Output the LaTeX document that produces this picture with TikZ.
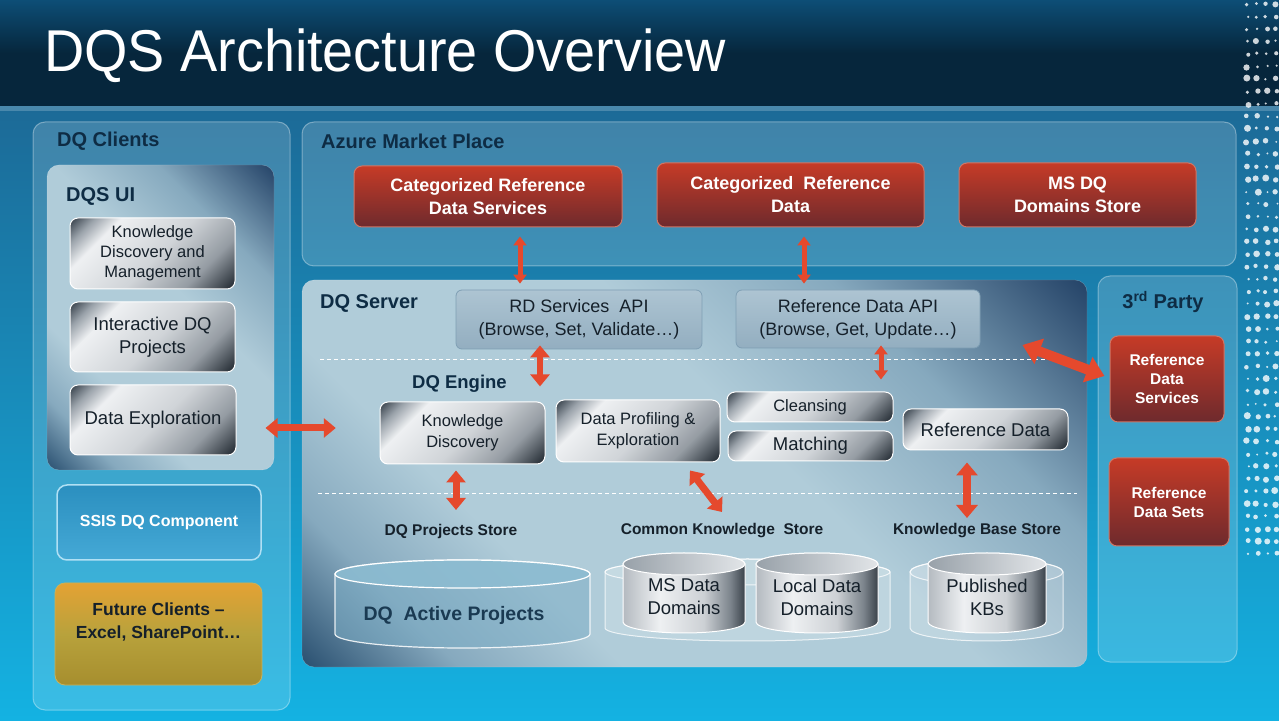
\documentclass[tikz,border=0pt]{standalone}
\usepackage{fontspec}
\setmainfont{Liberation Sans}
\usetikzlibrary{arrows.meta}
\definecolor{bgtop}{HTML}{1C6A97}
\definecolor{bgbot}{HTML}{14B2E2}
\definecolor{bandtop}{HTML}{0D4E76}
\definecolor{banddark}{HTML}{06263C}
\definecolor{navy}{HTML}{0E2C44}
\definecolor{inkdark}{HTML}{15202A}
\definecolor{redtop}{HTML}{C63B27}
\definecolor{redbot}{HTML}{6E2A2D}
\definecolor{redline}{HTML}{CF7666}
\definecolor{arrowred}{HTML}{E5492D}
\definecolor{apitop}{HTML}{ADC4D2}
\definecolor{apibot}{HTML}{93AEC0}
\definecolor{apiline}{HTML}{7F9FB4}
\definecolor{ssistop}{HTML}{2B8FBF}
\definecolor{ssisbot}{HTML}{45A9D6}
\definecolor{ssisline}{HTML}{B0E0F4}
\definecolor{futtop}{HTML}{E4A234}
\definecolor{futmid}{HTML}{B8A23C}
\definecolor{futbot}{HTML}{A68E2E}
\definecolor{futline}{HTML}{C9B25A}
\definecolor{steelA}{HTML}{2E5474}
\definecolor{steelB}{HTML}{86A9BE}
\definecolor{steelC}{HTML}{B0CCD9}
\definecolor{steelD}{HTML}{27466A}
\definecolor{silA}{HTML}{36404A}
\definecolor{silB}{HTML}{9AA2AA}
\definecolor{silC}{HTML}{EEF0F2}
\definecolor{silD}{HTML}{D0D4D8}
\definecolor{silE}{HTML}{959CA3}
\definecolor{silF}{HTML}{1F272F}
\definecolor{drumA}{HTML}{B4BAC0}
\definecolor{drumB}{HTML}{EEF0F2}
\definecolor{drumC}{HTML}{CDD1D5}
\definecolor{drumD}{HTML}{7C848C}
\definecolor{drumE}{HTML}{3A424A}
\definecolor{drumlid}{HTML}{98A1A9}
\definecolor{drumlidlight}{HTML}{E2E5E8}
\definecolor{activefill}{HTML}{8DBDD2}
\definecolor{activebody}{HTML}{7DAEC6}
\definecolor{activeink}{HTML}{1A3A52}
\pgfdeclarehorizontalshading{steel}{100bp}{color(0bp)=(steelA); color(15bp)=(steelA);
  color(24bp)=(steelB); color(34bp)=(steelC); color(56bp)=(steelC); color(70bp)=(steelB);
  color(85bp)=(steelD); color(100bp)=(steelD)}
\pgfdeclarehorizontalshading{silver}{100bp}{color(0bp)=(silA); color(15bp)=(silA);
  color(22bp)=(silB); color(30bp)=(silC); color(52bp)=(silD); color(70bp)=(silE);
  color(85bp)=(silF); color(100bp)=(silF)}
\pgfdeclarehorizontalshading{drum}{100bp}{color(0bp)=(drumA); color(25bp)=(drumA);
  color(40bp)=(drumB); color(58bp)=(drumC); color(69bp)=(drumD); color(75bp)=(drumE);
  color(100bp)=(drumE)}
\tikzstyle{panel} = [rectangle, rounded corners=12pt, fill=white, fill opacity=0.16,
  draw=white, draw opacity=0.35, line width=1pt, inner sep=0pt]
\tikzstyle{steelpanel} = [rectangle, rounded corners=12pt, shade, shading=steel,
  shading angle=45, draw=white, draw opacity=0.3, inner sep=0pt]
\tikzstyle{heading} = [anchor=west, inner sep=0pt, text=navy,
  font=\bfseries\fontsize{20}{24}\selectfont]
\tikzstyle{silverbox} = [rectangle, rounded corners=8pt, shade, shading=silver,
  shading angle=-45, draw=white, line width=1pt, inner sep=0pt, align=center,
  text=inkdark, font=\fontsize{18.5}{23}\selectfont]
\tikzstyle{redbox} = [rectangle, rounded corners=8pt, top color=redtop, bottom color=redbot,
  draw=redline, line width=1pt, inner sep=0pt, align=center, text=white,
  font=\bfseries\fontsize{18}{23}\selectfont]
\tikzstyle{apibox} = [rectangle, rounded corners=6pt, top color=apitop, bottom color=apibot,
  draw=apiline, line width=0.8pt, inner sep=0pt, align=center, text=inkdark,
  font=\fontsize{18}{23}\selectfont]
\tikzstyle{storelabel} = [inner sep=0pt, text=inkdark, font=\bfseries\fontsize{15.5}{18}\selectfont]
\tikzstyle{drumtext} = [inner sep=0pt, align=center, text=inkdark, font=\fontsize{18.5}{23}\selectfont]
\tikzstyle{drumbody} = [shade, shading=drum, draw=white, line width=1pt]
\tikzstyle{drumtop} = [left color=drumlid, right color=drumlidlight, draw=white, line width=1pt]
\tikzstyle{traybody} = [fill=white, fill opacity=0.18, draw=white, draw opacity=0.75, line width=1pt]
\tikzstyle{traytop} = [fill=white, fill opacity=0.12, draw=white, draw opacity=0.75, line width=1pt]
\tikzstyle{activebox} = [fill=activebody, fill opacity=0.55, draw=white, draw opacity=0.85, line width=1.2pt]
\tikzstyle{activetop} = [fill=activefill, fill opacity=0.8, draw=white, line width=1.2pt]
\tikzstyle{dqarrow} = [draw=arrowred, <->, line width=7pt, >={Triangle[length=12pt,width=19pt]}]
\tikzstyle{small arrow} = [line width=5pt, >={Triangle[length=9pt,width=13pt]}]
\tikzstyle{big arrow} = [line width=10pt, >={Triangle[length=18pt,width=26pt]}]
\newcommand{\link}[3][]{ %
  \foreach \x in {#2} { %
    \foreach \y in {#3} { %
      \path (\x) edge [dqarrow,#1] (\y) ;%
    } ;
  } ;
}
\newcommand{\drum}[7]{ % centre x, top y, bottom y, x radius, y radius, body, lid
  \path[#6] ({#1-#4},#2) -- ({#1-#4},#3)
    arc[start angle=180, end angle=360, x radius=#4pt, y radius=#5pt]
    -- ({#1+#4},#2) arc[start angle=0, end angle=180, x radius=#4pt, y radius=#5pt] -- cycle;
  \path[#7] (#1,#2) ellipse[x radius=#4pt, y radius=#5pt];
}
\begin{document}
\begin{tikzpicture}[x=1pt, y=1pt]
  \useasboundingbox (0,0) rectangle (1279,720);
  % background
  \fill[top color=bgtop, bottom color=bgbot] (0,0) rectangle (1279,612);
  \fill[top color=bandtop, bottom color=banddark, middle color=banddark] (0,614) rectangle (1279,720);
  \fill[color=bgtop!80!white] (0,609) rectangle (1279,614);
  \pgfmathsetseed{3}
  \foreach \row in {0,...,44} {
    \foreach \col in {0,...,3} {
      \pgfmathsetmacro{\rad}{1+2.6*rnd}
      \fill[white, opacity=0.8] ({1246+\col*9.5+3*rnd},{165+\row*12.5+2*rnd}) circle[radius=\rad pt];
    }
  }
  \node[anchor=base west, inner sep=0pt, text=white] (title) at (44,648)
    {\scalebox{0.945}[1]{\fontsize{59}{60}\selectfont DQS Architecture Overview}};

  % panels
  \node[panel, minimum width=257, minimum height=588] (clients) at (161.5,304) {};
  \node[panel, minimum width=934, minimum height=144] (azure) at (769,526) {};
  \node[panel, minimum width=139, minimum height=386] (third) at (1167.5,251) {};
  \node[steelpanel, minimum width=227, minimum height=305] (dqsui) at (160.5,402.5) {};
  \node[steelpanel, minimum width=785, minimum height=387] (dqserver) at (694.5,246.5) {};
  \node[heading] (clientslbl) at (57,579) {DQ Clients};
  \node[heading] (uilbl) at (66,524) {DQS UI};
  \node[heading] (azurelbl) at (321,579) {Azure Market Place};
  \node[heading] (serverlbl) at (320,417) {DQ Server};
  \node[heading, anchor=center] (thirdlbl) at (1163,418) {3\textsuperscript{rd} Party};
  \node[heading, font=\bfseries\fontsize{18.5}{22}\selectfont] (enginelbl) at (412,336) {DQ Engine};

  % clients
  \node[silverbox, minimum width=165, minimum height=71, font=\fontsize{16.5}{20}\selectfont]
    (kdm) at (152.5,466.5) {Knowledge\\Discovery and\\Management};
  \node[silverbox, minimum width=165, minimum height=70] (idq) at (152.5,383) {Interactive DQ\\Projects};
  \node[silverbox, minimum width=166, minimum height=70] (dataexp) at (153,300) {Data Exploration};
  \node[rectangle, rounded corners=10pt, top color=ssistop, bottom color=ssisbot, draw=ssisline,
    line width=1.5pt, minimum width=204, minimum height=75, text=white,
    font=\bfseries\fontsize{16}{19}\selectfont] (ssis) at (159,197.5) {SSIS DQ Component};
  \node[rectangle, rounded corners=10pt, top color=futtop, bottom color=futbot, middle color=futmid,
    draw=futline, line width=0.8pt, minimum width=207, minimum height=102] (future) at (158.5,86) {};
  \node[align=center, text=inkdark, font=\bfseries\fontsize{17.5}{23}\selectfont]
    (futuretxt) at ([yshift=11.5pt]future.center) {Future Clients --\\Excel, SharePoint\ldots};

  % azure market place
  \node[redbox, minimum width=268, minimum height=61] (crds) at (488,523.5) {Categorized Reference\\Data Services};
  \node[redbox, minimum width=267, minimum height=64] (crd) at (790.5,525) {Categorized\ \ Reference\\Data};
  \node[redbox, minimum width=237, minimum height=64] (msdq) at (1077.5,525) {MS DQ\\Domains Store};

  % dq server
  \node[apibox, minimum width=246, minimum height=59] (rdapi) at (579,400.5) {RD Services\ \ API\\(Browse, Set, Validate\ldots)};
  \node[apibox, minimum width=244, minimum height=58] (refapi) at (858,401) {Reference Data API\\(Browse, Get, Update\ldots)};
  \draw[white, line width=1pt, dash pattern=on 4pt off 3pt] (320,360) -- (1075,360);
  \draw[white, line width=1pt, dash pattern=on 4pt off 3pt] (318,226) -- (1077,226);
  \node[silverbox, minimum width=165, minimum height=62, font=\fontsize{16.5}{21}\selectfont]
    (kd) at (462.5,287) {Knowledge\\Discovery};
  \node[silverbox, minimum width=164, minimum height=62, font=\fontsize{16.5}{21}\selectfont]
    (dpe) at (638,289) {Data Profiling \&\\Exploration};
  \node[silverbox, minimum width=166, minimum height=30, font=\fontsize{16.5}{20}\selectfont]
    (cleansing) at (810,313) {Cleansing};
  \node[silverbox, minimum width=165, minimum height=30] (matching) at (810.5,274) {Matching};
  \node[silverbox, minimum width=165, minimum height=41] (refdata) at (985.5,290.5) {Reference Data};

  % stores
  \node[storelabel] (dqps) at (451,189) {DQ Projects Store};
  \node[storelabel] (cks) at (722,189) {Common Knowledge\ \ Store};
  \node[storelabel] (kbs) at (977,189) {Knowledge Base Store};
  \drum{462.5}{146}{86}{127.5}{14}{activebox}{activetop}
  \drum{747.5}{148}{92}{142.5}{13}{traybody}{traytop}
  \drum{986.5}{148}{92}{76.5}{13}{traybody}{traytop}
  \drum{684}{156}{98}{61}{11}{drumbody}{drumtop}
  \drum{817}{156}{98}{61}{11}{drumbody}{drumtop}
  \drum{987}{156}{98}{59}{11}{drumbody}{drumtop}
  \node[drumtext, text=activeink, font=\bfseries\fontsize{19.5}{23}\selectfont]
    (active) at (454,105) {DQ\ \ Active Projects};
  \node[drumtext] (msdd) at (684,123) {MS Data\\Domains};
  \node[drumtext] (lcdd) at (817,123) {Local Data\\Domains};
  \node[drumtext] (pkbs) at (987,123) {Published\\KBs};

  % 3rd party
  \node[redbox, minimum width=114, minimum height=86, font=\bfseries\fontsize{15.5}{19}\selectfont]
    (rds3) at (1167,341) {Reference\\Data\\Services};
  \node[redbox, minimum width=120, minimum height=88, font=\bfseries\fontsize{15.5}{19}\selectfont]
    (rdsets) at (1169,218) {Reference\\Data Sets};

  % arrows
  \coordinate (de-e) at ([xshift=29pt,yshift=-8pt]dataexp.east);
  \coordinate (srv-w) at ([xshift=34pt,yshift=45.5pt]dqserver.west);
  \coordinate (crds-s) at ([xshift=32pt,yshift=-9pt]crds.south);
  \coordinate (rdapi-n) at ([xshift=-59pt,yshift=6pt]rdapi.north);
  \coordinate (crd-s) at ([xshift=13.5pt,yshift=-9pt]crd.south);
  \coordinate (refapi-n) at ([xshift=-54pt,yshift=6pt]refapi.north);
  \coordinate (rdapi-s) at ([xshift=-39pt,yshift=4pt]rdapi.south);
  \coordinate (engine-n) at ([xshift=-39pt,yshift=-37pt]rdapi.south);
  \coordinate (refapi-s) at ([xshift=23pt,yshift=3pt]refapi.south);
  \coordinate (cleans-n) at ([xshift=71pt,yshift=12pt]cleansing.north);
  \coordinate (srv-ne) at ([xshift=42pt,yshift=-26pt]refapi.east);
  \coordinate (rds3-w) at ([xshift=-5pt,yshift=3pt]rds3.west);
  \coordinate (kd-s) at ([xshift=-6.5pt,yshift=-6pt]kd.south);
  \coordinate (dqps-n) at ([xshift=5pt,yshift=21pt]dqps.center);
  \coordinate (dpe-s) at ([xshift=52pt,yshift=-8pt]dpe.south);
  \coordinate (cks-n) at ([yshift=19pt]cks.center);
  \coordinate (rd-s) at ([xshift=-18.5pt,yshift=-12pt]refdata.south);
  \coordinate (kbs-n) at ([xshift=-10pt,yshift=13pt]kbs.center);
  \link {de-e} {srv-w};
  \link[small arrow] {crds-s} {rdapi-n};
  \link[small arrow] {crd-s} {refapi-n};
  \link[line width=6pt] {rdapi-s} {engine-n};
  \link[small arrow] {refapi-s} {cleans-n};
  \link[big arrow] {srv-ne} {rds3-w};
  \link {kd-s} {dqps-n};
  \link {dpe-s} {cks-n};
  \link[line width=8pt, >={Triangle[length=13pt,width=21pt]}] {rd-s} {kbs-n};
\end{tikzpicture}
\end{document}
